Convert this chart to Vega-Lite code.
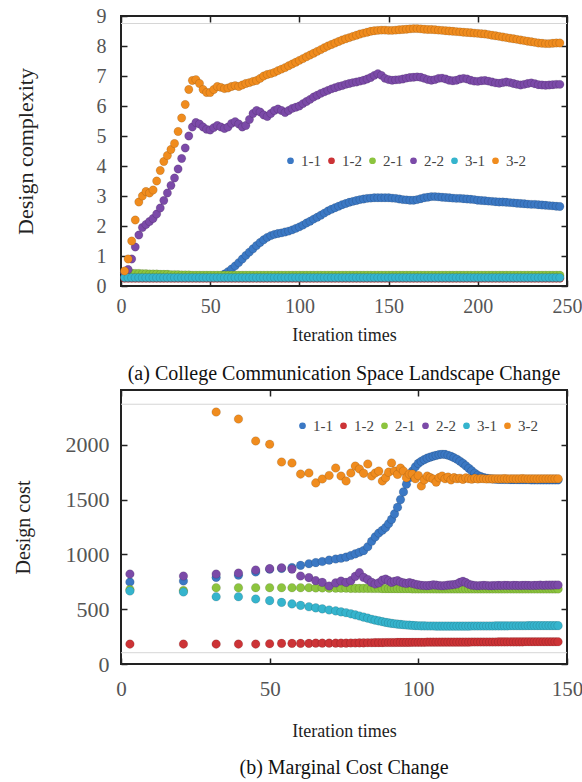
{
"$schema": "https://vega.github.io/schema/vega-lite/v6.json",
"background": "white",
"padding": {"left": 12, "top": 5, "right": 5, "bottom": 0},
"config": {
  "font": "Liberation Serif",
  "view": {"stroke": "#222", "strokeWidth": 2},
  "axis": {"grid": false, "domain": false, "labelFlush": false, "labelFont": "Liberation Serif", "titleFont": "Liberation Serif", "labelColor": "#555", "titleColor": "#222", "titleFontWeight": "normal", "labelFontSize": 20, "titleFontSize": 18, "tickColor": "#222", "tickWidth": 1.5, "tickSize": -6},
  "legend": {"labelFont": "Liberation Serif", "labelFontSize": 15, "labelColor": "#444", "symbolType": "circle", "symbolSize": 45, "symbolStrokeWidth": 0, "columnPadding": 3, "labelOffset": 3},
  "title": {"font": "Liberation Serif", "fontSize": 20, "fontWeight": "normal", "color": "#111"},
  "concat": {"spacing": 3}
},
"resolve": {"scale": {"color": "independent"}, "legend": {"color": "independent"}},
"vconcat": [
{
  "width": 446, "height": 270,
  "title": {"text": "(a) College Communication Space Landscape Change", "orient": "bottom", "offset": 20},
  "data": {"values": [
{"x":2,"1-1":0.3,"1-2":0.26,"2-1":0.45,"2-2":0.45,"3-1":0.28,"3-2":0.5},
{"x":4,"1-1":0.3,"1-2":0.26,"2-1":0.44,"2-2":0.55,"3-1":0.28,"3-2":0.9},
{"x":6,"1-1":0.3,"1-2":0.26,"2-1":0.43,"2-2":0.9,"3-1":0.28,"3-2":1.5},
{"x":8,"1-1":0.3,"1-2":0.26,"2-1":0.42,"2-2":1.3,"3-1":0.28,"3-2":2.2},
{"x":10,"1-1":0.3,"1-2":0.26,"2-1":0.42,"2-2":1.7,"3-1":0.28,"3-2":2.8},
{"x":12,"1-1":0.3,"1-2":0.26,"2-1":0.41,"2-2":1.95,"3-1":0.28,"3-2":3.0},
{"x":14,"1-1":0.3,"1-2":0.26,"2-1":0.41,"2-2":2.05,"3-1":0.28,"3-2":3.15},
{"x":16,"1-1":0.3,"1-2":0.26,"2-1":0.4,"2-2":2.15,"3-1":0.28,"3-2":3.1},
{"x":18,"1-1":0.3,"1-2":0.26,"2-1":0.4,"2-2":2.25,"3-1":0.28,"3-2":3.2},
{"x":20,"1-1":0.3,"1-2":0.26,"2-1":0.4,"2-2":2.4,"3-1":0.28,"3-2":3.5},
{"x":22,"1-1":0.3,"1-2":0.26,"2-1":0.39,"2-2":2.6,"3-1":0.28,"3-2":3.85},
{"x":24,"1-1":0.3,"1-2":0.26,"2-1":0.39,"2-2":2.85,"3-1":0.28,"3-2":4.15},
{"x":26,"1-1":0.3,"1-2":0.26,"2-1":0.39,"2-2":3.1,"3-1":0.28,"3-2":4.35},
{"x":28,"1-1":0.3,"1-2":0.26,"2-1":0.38,"2-2":3.35,"3-1":0.28,"3-2":4.55},
{"x":30,"1-1":0.3,"1-2":0.26,"2-1":0.38,"2-2":3.6,"3-1":0.28,"3-2":4.75},
{"x":32,"1-1":0.3,"1-2":0.26,"2-1":0.38,"2-2":3.9,"3-1":0.28,"3-2":5.15},
{"x":34,"1-1":0.3,"1-2":0.26,"2-1":0.37,"2-2":4.25,"3-1":0.28,"3-2":5.6},
{"x":36,"1-1":0.3,"1-2":0.26,"2-1":0.37,"2-2":4.6,"3-1":0.28,"3-2":6.05},
{"x":38,"1-1":0.3,"1-2":0.26,"2-1":0.37,"2-2":5.0,"3-1":0.28,"3-2":6.55},
{"x":40,"1-1":0.3,"1-2":0.26,"2-1":0.36,"2-2":5.3,"3-1":0.28,"3-2":6.85},
{"x":42,"1-1":0.3,"1-2":0.26,"2-1":0.36,"2-2":5.45,"3-1":0.28,"3-2":6.88},
{"x":44,"1-1":0.3,"1-2":0.26,"2-1":0.36,"2-2":5.4,"3-1":0.28,"3-2":6.75},
{"x":46,"1-1":0.3,"1-2":0.26,"2-1":0.36,"2-2":5.3,"3-1":0.28,"3-2":6.55},
{"x":48,"1-1":0.3,"1-2":0.26,"2-1":0.36,"2-2":5.22,"3-1":0.28,"3-2":6.45},
{"x":50,"1-1":0.3,"1-2":0.26,"2-1":0.36,"2-2":5.2,"3-1":0.28,"3-2":6.45},
{"x":52,"1-1":0.3,"1-2":0.26,"2-1":0.36,"2-2":5.28,"3-1":0.28,"3-2":6.55},
{"x":54,"1-1":0.3,"1-2":0.26,"2-1":0.36,"2-2":5.35,"3-1":0.28,"3-2":6.65},
{"x":56,"1-1":0.33,"1-2":0.26,"2-1":0.36,"2-2":5.3,"3-1":0.28,"3-2":6.62},
{"x":58,"1-1":0.4,"1-2":0.26,"2-1":0.36,"2-2":5.25,"3-1":0.28,"3-2":6.58},
{"x":60,"1-1":0.48,"1-2":0.26,"2-1":0.36,"2-2":5.3,"3-1":0.28,"3-2":6.6},
{"x":62,"1-1":0.57,"1-2":0.26,"2-1":0.36,"2-2":5.42,"3-1":0.28,"3-2":6.65},
{"x":64,"1-1":0.67,"1-2":0.26,"2-1":0.36,"2-2":5.48,"3-1":0.28,"3-2":6.68},
{"x":66,"1-1":0.78,"1-2":0.26,"2-1":0.36,"2-2":5.4,"3-1":0.28,"3-2":6.65},
{"x":68,"1-1":0.9,"1-2":0.26,"2-1":0.36,"2-2":5.3,"3-1":0.28,"3-2":6.7},
{"x":70,"1-1":1.02,"1-2":0.26,"2-1":0.36,"2-2":5.35,"3-1":0.28,"3-2":6.75},
{"x":72,"1-1":1.13,"1-2":0.26,"2-1":0.36,"2-2":5.55,"3-1":0.28,"3-2":6.78},
{"x":74,"1-1":1.24,"1-2":0.26,"2-1":0.36,"2-2":5.75,"3-1":0.28,"3-2":6.82},
{"x":76,"1-1":1.35,"1-2":0.26,"2-1":0.36,"2-2":5.85,"3-1":0.28,"3-2":6.85},
{"x":78,"1-1":1.45,"1-2":0.26,"2-1":0.36,"2-2":5.8,"3-1":0.28,"3-2":6.92},
{"x":80,"1-1":1.54,"1-2":0.26,"2-1":0.36,"2-2":5.7,"3-1":0.28,"3-2":7.0},
{"x":82,"1-1":1.62,"1-2":0.26,"2-1":0.36,"2-2":5.65,"3-1":0.28,"3-2":7.05},
{"x":84,"1-1":1.68,"1-2":0.26,"2-1":0.36,"2-2":5.75,"3-1":0.28,"3-2":7.08},
{"x":86,"1-1":1.72,"1-2":0.26,"2-1":0.36,"2-2":5.85,"3-1":0.28,"3-2":7.12},
{"x":88,"1-1":1.75,"1-2":0.26,"2-1":0.36,"2-2":5.9,"3-1":0.28,"3-2":7.18},
{"x":90,"1-1":1.77,"1-2":0.26,"2-1":0.36,"2-2":5.85,"3-1":0.28,"3-2":7.23},
{"x":92,"1-1":1.8,"1-2":0.26,"2-1":0.36,"2-2":5.78,"3-1":0.28,"3-2":7.28},
{"x":94,"1-1":1.83,"1-2":0.26,"2-1":0.36,"2-2":5.85,"3-1":0.28,"3-2":7.34},
{"x":96,"1-1":1.87,"1-2":0.26,"2-1":0.36,"2-2":5.92,"3-1":0.28,"3-2":7.4},
{"x":98,"1-1":1.92,"1-2":0.26,"2-1":0.36,"2-2":5.96,"3-1":0.28,"3-2":7.46},
{"x":100,"1-1":1.97,"1-2":0.26,"2-1":0.36,"2-2":6.0,"3-1":0.28,"3-2":7.52},
{"x":102,"1-1":2.03,"1-2":0.26,"2-1":0.36,"2-2":6.08,"3-1":0.28,"3-2":7.58},
{"x":104,"1-1":2.1,"1-2":0.26,"2-1":0.36,"2-2":6.15,"3-1":0.28,"3-2":7.64},
{"x":106,"1-1":2.16,"1-2":0.26,"2-1":0.36,"2-2":6.22,"3-1":0.28,"3-2":7.7},
{"x":108,"1-1":2.23,"1-2":0.26,"2-1":0.36,"2-2":6.3,"3-1":0.28,"3-2":7.76},
{"x":110,"1-1":2.29,"1-2":0.26,"2-1":0.36,"2-2":6.36,"3-1":0.28,"3-2":7.82},
{"x":112,"1-1":2.36,"1-2":0.26,"2-1":0.36,"2-2":6.42,"3-1":0.28,"3-2":7.88},
{"x":114,"1-1":2.43,"1-2":0.26,"2-1":0.36,"2-2":6.47,"3-1":0.28,"3-2":7.94},
{"x":116,"1-1":2.5,"1-2":0.26,"2-1":0.36,"2-2":6.52,"3-1":0.28,"3-2":8.0},
{"x":118,"1-1":2.56,"1-2":0.26,"2-1":0.36,"2-2":6.57,"3-1":0.28,"3-2":8.05},
{"x":120,"1-1":2.61,"1-2":0.26,"2-1":0.36,"2-2":6.61,"3-1":0.28,"3-2":8.1},
{"x":122,"1-1":2.66,"1-2":0.26,"2-1":0.36,"2-2":6.65,"3-1":0.28,"3-2":8.15},
{"x":124,"1-1":2.71,"1-2":0.26,"2-1":0.36,"2-2":6.68,"3-1":0.28,"3-2":8.2},
{"x":126,"1-1":2.75,"1-2":0.26,"2-1":0.36,"2-2":6.72,"3-1":0.28,"3-2":8.24},
{"x":128,"1-1":2.79,"1-2":0.26,"2-1":0.36,"2-2":6.75,"3-1":0.28,"3-2":8.28},
{"x":130,"1-1":2.82,"1-2":0.26,"2-1":0.36,"2-2":6.78,"3-1":0.28,"3-2":8.32},
{"x":132,"1-1":2.85,"1-2":0.26,"2-1":0.36,"2-2":6.8,"3-1":0.28,"3-2":8.36},
{"x":134,"1-1":2.88,"1-2":0.26,"2-1":0.36,"2-2":6.83,"3-1":0.28,"3-2":8.4},
{"x":136,"1-1":2.9,"1-2":0.26,"2-1":0.36,"2-2":6.86,"3-1":0.28,"3-2":8.43},
{"x":138,"1-1":2.92,"1-2":0.26,"2-1":0.36,"2-2":6.9,"3-1":0.28,"3-2":8.46},
{"x":140,"1-1":2.93,"1-2":0.26,"2-1":0.36,"2-2":6.95,"3-1":0.28,"3-2":8.49},
{"x":142,"1-1":2.94,"1-2":0.26,"2-1":0.36,"2-2":7.02,"3-1":0.28,"3-2":8.51},
{"x":144,"1-1":2.94,"1-2":0.26,"2-1":0.36,"2-2":7.08,"3-1":0.28,"3-2":8.52},
{"x":146,"1-1":2.94,"1-2":0.26,"2-1":0.36,"2-2":7.02,"3-1":0.28,"3-2":8.53},
{"x":148,"1-1":2.94,"1-2":0.26,"2-1":0.36,"2-2":6.92,"3-1":0.28,"3-2":8.53},
{"x":150,"1-1":2.94,"1-2":0.26,"2-1":0.36,"2-2":6.88,"3-1":0.28,"3-2":8.52},
{"x":152,"1-1":2.93,"1-2":0.26,"2-1":0.36,"2-2":6.86,"3-1":0.28,"3-2":8.52},
{"x":154,"1-1":2.92,"1-2":0.26,"2-1":0.36,"2-2":6.87,"3-1":0.28,"3-2":8.53},
{"x":156,"1-1":2.9,"1-2":0.26,"2-1":0.36,"2-2":6.88,"3-1":0.28,"3-2":8.54},
{"x":158,"1-1":2.88,"1-2":0.26,"2-1":0.36,"2-2":6.9,"3-1":0.28,"3-2":8.55},
{"x":160,"1-1":2.87,"1-2":0.26,"2-1":0.36,"2-2":6.93,"3-1":0.28,"3-2":8.56},
{"x":162,"1-1":2.86,"1-2":0.26,"2-1":0.36,"2-2":6.95,"3-1":0.28,"3-2":8.57},
{"x":164,"1-1":2.86,"1-2":0.26,"2-1":0.36,"2-2":6.96,"3-1":0.28,"3-2":8.58},
{"x":166,"1-1":2.88,"1-2":0.26,"2-1":0.36,"2-2":6.97,"3-1":0.28,"3-2":8.58},
{"x":168,"1-1":2.91,"1-2":0.26,"2-1":0.36,"2-2":6.96,"3-1":0.28,"3-2":8.57},
{"x":170,"1-1":2.94,"1-2":0.26,"2-1":0.36,"2-2":6.92,"3-1":0.28,"3-2":8.56},
{"x":172,"1-1":2.96,"1-2":0.26,"2-1":0.36,"2-2":6.88,"3-1":0.28,"3-2":8.55},
{"x":174,"1-1":2.98,"1-2":0.26,"2-1":0.36,"2-2":6.86,"3-1":0.28,"3-2":8.55},
{"x":176,"1-1":2.98,"1-2":0.26,"2-1":0.36,"2-2":6.88,"3-1":0.28,"3-2":8.54},
{"x":178,"1-1":2.97,"1-2":0.26,"2-1":0.36,"2-2":6.92,"3-1":0.28,"3-2":8.53},
{"x":180,"1-1":2.96,"1-2":0.26,"2-1":0.36,"2-2":6.93,"3-1":0.28,"3-2":8.52},
{"x":182,"1-1":2.95,"1-2":0.26,"2-1":0.36,"2-2":6.9,"3-1":0.28,"3-2":8.51},
{"x":184,"1-1":2.94,"1-2":0.26,"2-1":0.36,"2-2":6.86,"3-1":0.28,"3-2":8.5},
{"x":186,"1-1":2.93,"1-2":0.26,"2-1":0.36,"2-2":6.84,"3-1":0.28,"3-2":8.49},
{"x":188,"1-1":2.92,"1-2":0.26,"2-1":0.36,"2-2":6.86,"3-1":0.28,"3-2":8.48},
{"x":190,"1-1":2.92,"1-2":0.26,"2-1":0.36,"2-2":6.9,"3-1":0.28,"3-2":8.47},
{"x":192,"1-1":2.91,"1-2":0.26,"2-1":0.36,"2-2":6.92,"3-1":0.28,"3-2":8.46},
{"x":194,"1-1":2.9,"1-2":0.26,"2-1":0.36,"2-2":6.9,"3-1":0.28,"3-2":8.45},
{"x":196,"1-1":2.89,"1-2":0.26,"2-1":0.36,"2-2":6.86,"3-1":0.28,"3-2":8.44},
{"x":198,"1-1":2.88,"1-2":0.26,"2-1":0.36,"2-2":6.83,"3-1":0.28,"3-2":8.43},
{"x":200,"1-1":2.86,"1-2":0.26,"2-1":0.36,"2-2":6.82,"3-1":0.28,"3-2":8.42},
{"x":202,"1-1":2.85,"1-2":0.26,"2-1":0.36,"2-2":6.84,"3-1":0.28,"3-2":8.41},
{"x":204,"1-1":2.84,"1-2":0.26,"2-1":0.36,"2-2":6.85,"3-1":0.28,"3-2":8.4},
{"x":206,"1-1":2.83,"1-2":0.26,"2-1":0.36,"2-2":6.83,"3-1":0.28,"3-2":8.38},
{"x":208,"1-1":2.82,"1-2":0.26,"2-1":0.36,"2-2":6.8,"3-1":0.28,"3-2":8.36},
{"x":210,"1-1":2.81,"1-2":0.26,"2-1":0.36,"2-2":6.77,"3-1":0.28,"3-2":8.34},
{"x":212,"1-1":2.8,"1-2":0.26,"2-1":0.36,"2-2":6.76,"3-1":0.28,"3-2":8.32},
{"x":214,"1-1":2.8,"1-2":0.26,"2-1":0.36,"2-2":6.78,"3-1":0.28,"3-2":8.3},
{"x":216,"1-1":2.79,"1-2":0.26,"2-1":0.36,"2-2":6.8,"3-1":0.28,"3-2":8.28},
{"x":218,"1-1":2.78,"1-2":0.26,"2-1":0.36,"2-2":6.78,"3-1":0.28,"3-2":8.26},
{"x":220,"1-1":2.77,"1-2":0.26,"2-1":0.36,"2-2":6.75,"3-1":0.28,"3-2":8.24},
{"x":222,"1-1":2.76,"1-2":0.26,"2-1":0.36,"2-2":6.72,"3-1":0.28,"3-2":8.22},
{"x":224,"1-1":2.75,"1-2":0.26,"2-1":0.36,"2-2":6.7,"3-1":0.28,"3-2":8.2},
{"x":226,"1-1":2.74,"1-2":0.26,"2-1":0.36,"2-2":6.72,"3-1":0.28,"3-2":8.18},
{"x":228,"1-1":2.73,"1-2":0.26,"2-1":0.36,"2-2":6.75,"3-1":0.28,"3-2":8.16},
{"x":230,"1-1":2.72,"1-2":0.26,"2-1":0.36,"2-2":6.77,"3-1":0.28,"3-2":8.14},
{"x":232,"1-1":2.72,"1-2":0.26,"2-1":0.36,"2-2":6.74,"3-1":0.28,"3-2":8.12},
{"x":234,"1-1":2.71,"1-2":0.26,"2-1":0.36,"2-2":6.71,"3-1":0.28,"3-2":8.1},
{"x":236,"1-1":2.7,"1-2":0.26,"2-1":0.36,"2-2":6.7,"3-1":0.28,"3-2":8.09},
{"x":238,"1-1":2.69,"1-2":0.26,"2-1":0.36,"2-2":6.69,"3-1":0.28,"3-2":8.08},
{"x":240,"1-1":2.68,"1-2":0.26,"2-1":0.36,"2-2":6.7,"3-1":0.28,"3-2":8.08},
{"x":242,"1-1":2.67,"1-2":0.26,"2-1":0.36,"2-2":6.71,"3-1":0.28,"3-2":8.09},
{"x":244,"1-1":2.66,"1-2":0.26,"2-1":0.36,"2-2":6.72,"3-1":0.28,"3-2":8.1},
{"x":246,"1-1":2.65,"1-2":0.26,"2-1":0.36,"2-2":6.72,"3-1":0.28,"3-2":8.1}
  ]},
  "layer": [
    {"data": {"values": [{"g": 8.75}]}, "mark": {"type": "rule", "color": "#d6d6d6", "strokeWidth": 1},
     "encoding": {"y": {"field": "g", "type": "quantitative", "scale": {"domain": [0, 9], "nice": false}, "axis": null}}},
    {"transform": [{"fold": ["1-1","1-2","2-1","2-2","3-1","3-2"], "as": ["series","value"]}],
     "mark": {"type": "circle", "size": 70, "opacity": 1, "stroke": "#000", "strokeWidth": 0.4, "strokeOpacity": 0.3},
     "encoding": {
       "x": {"field": "x", "type": "quantitative", "scale": {"domain": [0, 250], "nice": false},
             "axis": {"values": [0,50,100,150,200,250], "title": "Iteration times", "labelPadding": 16, "titlePadding": 10}},
       "y": {"field": "value", "type": "quantitative", "scale": {"domain": [0, 9], "nice": false},
             "axis": {"values": [0,1,2,3,4,5,6,7,8,9], "title": "Design complexity", "titleFontSize": 22, "labelPadding": 21, "titlePadding": 59}},
       "color": {"field": "series", "type": "nominal",
             "scale": {"domain": ["1-1","1-2","2-1","2-2","3-1","3-2"], "range": ["#3b78c4","#cc3336","#8cc43e","#7b4aa8","#35b4cd","#f08c1e"]},
             "legend": {"title": null, "orient": "none", "direction": "horizontal", "columns": 6, "legendX": 162, "legendY": 137}},
       "order": {"field": "series", "type": "ordinal"}
     }},
    {"mark": {"type": "point", "opacity": 0},
     "encoding": {
       "x": {"field": "x", "type": "quantitative", "axis": {"orient": "top", "values": [0,50,100,150,200,250], "labels": false, "title": null}},
       "y": {"field": "3-2", "type": "quantitative", "axis": {"orient": "right", "values": [0,1,2,3,4,5,6,7,8,9], "labels": false, "title": null}}
     }}
  ],
  "resolve": {"axis": {"x": "independent", "y": "independent"}}
},
{
  "width": 446, "height": 274,
  "title": {"text": "(b) Marginal Cost Change", "orient": "bottom", "offset": 18},
  "data": {"values": [
{"x":3,"1-1":748,"1-2":182,"2-1":680,"2-2":821,"3-1":666,"3-2":null},
{"x":21,"1-1":757,"1-2":182,"2-1":670,"2-2":803,"3-1":657,"3-2":null},
{"x":32,"1-1":790,"1-2":182,"2-1":696,"2-2":821,"3-1":614,"3-2":2299},
{"x":39.5,"1-1":810,"1-2":182,"2-1":696,"2-2":830,"3-1":614,"3-2":2235},
{"x":45.3,"1-1":840,"1-2":182,"2-1":696,"2-2":858,"3-1":593,"3-2":2035},
{"x":50,"1-1":865,"1-2":185,"2-1":696,"2-2":870,"3-1":578,"3-2":2005},
{"x":54,"1-1":872,"1-2":188,"2-1":696,"2-2":878,"3-1":562,"3-2":1843},
{"x":57.5,"1-1":880,"1-2":188,"2-1":696,"2-2":866,"3-1":548,"3-2":1834},
{"x":60.4,"1-1":900,"1-2":188,"2-1":696,"2-2":803,"3-1":535,"3-2":1733},
{"x":63.2,"1-1":915,"1-2":188,"2-1":696,"2-2":788,"3-1":522,"3-2":1743},
{"x":65.5,"1-1":925,"1-2":190,"2-1":694,"2-2":760,"3-1":512,"3-2":1652},
{"x":67.7,"1-1":935,"1-2":190,"2-1":694,"2-2":745,"3-1":503,"3-2":1688},
{"x":70,"1-1":948,"1-2":190,"2-1":692,"2-2":712,"3-1":493,"3-2":1720},
{"x":72.2,"1-1":958,"1-2":190,"2-1":692,"2-2":740,"3-1":484,"3-2":1788},
{"x":74,"1-1":965,"1-2":190,"2-1":692,"2-2":757,"3-1":476,"3-2":1715},
{"x":75.7,"1-1":975,"1-2":190,"2-1":692,"2-2":745,"3-1":468,"3-2":1670},
{"x":77.3,"1-1":990,"1-2":192,"2-1":690,"2-2":760,"3-1":458,"3-2":1743},
{"x":78.8,"1-1":1005,"1-2":192,"2-1":690,"2-2":800,"3-1":448,"3-2":1806},
{"x":80.2,"1-1":1020,"1-2":193,"2-1":690,"2-2":833,"3-1":438,"3-2":1779},
{"x":81.6,"1-1":1035,"1-2":193,"2-1":690,"2-2":790,"3-1":428,"3-2":1740},
{"x":83,"1-1":1070,"1-2":194,"2-1":690,"2-2":770,"3-1":418,"3-2":1825},
{"x":84.3,"1-1":1120,"1-2":194,"2-1":689,"2-2":745,"3-1":408,"3-2":1715},
{"x":85.5,"1-1":1160,"1-2":195,"2-1":689,"2-2":730,"3-1":400,"3-2":1743},
{"x":86.7,"1-1":1195,"1-2":195,"2-1":689,"2-2":740,"3-1":393,"3-2":1760},
{"x":87.9,"1-1":1220,"1-2":195,"2-1":688,"2-2":765,"3-1":386,"3-2":1670},
{"x":89,"1-1":1245,"1-2":196,"2-1":688,"2-2":775,"3-1":380,"3-2":1700},
{"x":90,"1-1":1280,"1-2":196,"2-1":688,"2-2":760,"3-1":375,"3-2":1750},
{"x":91,"1-1":1320,"1-2":196,"2-1":688,"2-2":745,"3-1":371,"3-2":1834},
{"x":92,"1-1":1370,"1-2":196,"2-1":688,"2-2":755,"3-1":367,"3-2":1761},
{"x":93,"1-1":1430,"1-2":197,"2-1":687,"2-2":760,"3-1":364,"3-2":1730},
{"x":94,"1-1":1500,"1-2":197,"2-1":687,"2-2":748,"3-1":361,"3-2":1788},
{"x":95,"1-1":1570,"1-2":197,"2-1":687,"2-2":740,"3-1":358,"3-2":1760},
{"x":96,"1-1":1640,"1-2":197,"2-1":687,"2-2":735,"3-1":356,"3-2":1700},
{"x":97,"1-1":1700,"1-2":197,"2-1":687,"2-2":742,"3-1":354,"3-2":1733},
{"x":98,"1-1":1760,"1-2":198,"2-1":686,"2-2":735,"3-1":352,"3-2":1733},
{"x":99,"1-1":1800,"1-2":198,"2-1":686,"2-2":728,"3-1":350,"3-2":1690},
{"x":100,"1-1":1830,"1-2":198,"2-1":686,"2-2":722,"3-1":349,"3-2":1720},
{"x":101,"1-1":1850,"1-2":198,"2-1":686,"2-2":718,"3-1":348,"3-2":1624},
{"x":102,"1-1":1865,"1-2":198,"2-1":686,"2-2":716,"3-1":348,"3-2":1680},
{"x":103,"1-1":1878,"1-2":199,"2-1":686,"2-2":715,"3-1":347,"3-2":1715},
{"x":104,"1-1":1888,"1-2":199,"2-1":686,"2-2":718,"3-1":347,"3-2":1700},
{"x":105,"1-1":1896,"1-2":199,"2-1":686,"2-2":722,"3-1":347,"3-2":1688},
{"x":106,"1-1":1903,"1-2":199,"2-1":685,"2-2":720,"3-1":346,"3-2":1660},
{"x":107,"1-1":1910,"1-2":199,"2-1":685,"2-2":716,"3-1":346,"3-2":1700},
{"x":108,"1-1":1914,"1-2":200,"2-1":685,"2-2":714,"3-1":346,"3-2":1715},
{"x":109,"1-1":1912,"1-2":200,"2-1":685,"2-2":716,"3-1":346,"3-2":1690},
{"x":110,"1-1":1905,"1-2":200,"2-1":685,"2-2":720,"3-1":346,"3-2":1705},
{"x":111,"1-1":1895,"1-2":200,"2-1":685,"2-2":722,"3-1":346,"3-2":1680},
{"x":112,"1-1":1882,"1-2":200,"2-1":685,"2-2":725,"3-1":346,"3-2":1700},
{"x":113,"1-1":1868,"1-2":200,"2-1":685,"2-2":730,"3-1":346,"3-2":1690},
{"x":114,"1-1":1850,"1-2":200,"2-1":685,"2-2":745,"3-1":346,"3-2":1695},
{"x":115,"1-1":1830,"1-2":200,"2-1":685,"2-2":755,"3-1":346,"3-2":1685},
{"x":116,"1-1":1808,"1-2":200,"2-1":685,"2-2":742,"3-1":346,"3-2":1698},
{"x":117,"1-1":1785,"1-2":200,"2-1":685,"2-2":728,"3-1":346,"3-2":1690},
{"x":118,"1-1":1762,"1-2":201,"2-1":685,"2-2":720,"3-1":347,"3-2":1686},
{"x":119,"1-1":1740,"1-2":201,"2-1":685,"2-2":716,"3-1":347,"3-2":1694},
{"x":120,"1-1":1722,"1-2":201,"2-1":685,"2-2":714,"3-1":347,"3-2":1688},
{"x":121,"1-1":1710,"1-2":201,"2-1":685,"2-2":716,"3-1":347,"3-2":1692},
{"x":122,"1-1":1700,"1-2":201,"2-1":685,"2-2":718,"3-1":347,"3-2":1690},
{"x":123,"1-1":1695,"1-2":201,"2-1":685,"2-2":716,"3-1":347,"3-2":1688},
{"x":124,"1-1":1690,"1-2":201,"2-1":685,"2-2":714,"3-1":347,"3-2":1690},
{"x":125,"1-1":1688,"1-2":201,"2-1":685,"2-2":715,"3-1":347,"3-2":1689},
{"x":126,"1-1":1686,"1-2":201,"2-1":685,"2-2":716,"3-1":348,"3-2":1690},
{"x":127,"1-1":1685,"1-2":202,"2-1":685,"2-2":717,"3-1":348,"3-2":1689},
{"x":128,"1-1":1684,"1-2":202,"2-1":685,"2-2":716,"3-1":348,"3-2":1690},
{"x":129,"1-1":1683,"1-2":202,"2-1":685,"2-2":718,"3-1":348,"3-2":1691},
{"x":130,"1-1":1683,"1-2":202,"2-1":685,"2-2":717,"3-1":348,"3-2":1689},
{"x":131,"1-1":1682,"1-2":202,"2-1":685,"2-2":716,"3-1":349,"3-2":1690},
{"x":132,"1-1":1682,"1-2":202,"2-1":685,"2-2":718,"3-1":349,"3-2":1690},
{"x":133,"1-1":1682,"1-2":202,"2-1":685,"2-2":717,"3-1":349,"3-2":1689},
{"x":134,"1-1":1681,"1-2":202,"2-1":685,"2-2":716,"3-1":349,"3-2":1690},
{"x":135,"1-1":1681,"1-2":202,"2-1":685,"2-2":717,"3-1":349,"3-2":1691},
{"x":136,"1-1":1681,"1-2":203,"2-1":685,"2-2":718,"3-1":349,"3-2":1690},
{"x":137,"1-1":1681,"1-2":203,"2-1":685,"2-2":717,"3-1":350,"3-2":1689},
{"x":138,"1-1":1680,"1-2":203,"2-1":685,"2-2":716,"3-1":350,"3-2":1690},
{"x":139,"1-1":1680,"1-2":203,"2-1":685,"2-2":717,"3-1":350,"3-2":1690},
{"x":140,"1-1":1680,"1-2":203,"2-1":685,"2-2":718,"3-1":350,"3-2":1689},
{"x":141,"1-1":1680,"1-2":203,"2-1":685,"2-2":719,"3-1":350,"3-2":1690},
{"x":142,"1-1":1680,"1-2":203,"2-1":685,"2-2":718,"3-1":350,"3-2":1690},
{"x":143,"1-1":1680,"1-2":203,"2-1":685,"2-2":719,"3-1":350,"3-2":1690},
{"x":144,"1-1":1680,"1-2":203,"2-1":685,"2-2":720,"3-1":350,"3-2":1690},
{"x":145,"1-1":1680,"1-2":203,"2-1":685,"2-2":720,"3-1":350,"3-2":1690},
{"x":146,"1-1":1680,"1-2":203,"2-1":685,"2-2":721,"3-1":350,"3-2":1690},
{"x":147,"1-1":1680,"1-2":203,"2-1":685,"2-2":721,"3-1":350,"3-2":1690}
  ]},
  "layer": [
    {"data": {"values": [{"g": 2370}, {"g": 103}]}, "mark": {"type": "rule", "color": "#d6d6d6", "strokeWidth": 1},
     "encoding": {"y": {"field": "g", "type": "quantitative", "scale": {"domain": [0, 2500], "nice": false}, "axis": null}}},
    {"transform": [{"fold": ["1-1","1-2","2-1","2-2","3-1","3-2"], "as": ["series","value"]}],
     "mark": {"type": "circle", "size": 75, "opacity": 1, "stroke": "#000", "strokeWidth": 0.4, "strokeOpacity": 0.3},
     "encoding": {
       "x": {"field": "x", "type": "quantitative", "scale": {"domain": [0, 150], "nice": false},
             "axis": {"values": [0,50,100,150], "title": "Iteration times", "labelFontSize": 21, "labelPadding": 20, "titlePadding": 23}},
       "y": {"field": "value", "type": "quantitative", "scale": {"domain": [0, 2500], "nice": false},
             "axis": {"values": [0,500,1000,1500,2000], "format": "d", "title": "Design cost", "titleFontSize": 20, "labelFontSize": 22, "labelPadding": 18, "titlePadding": 32}},
       "color": {"field": "series", "type": "nominal",
             "scale": {"domain": ["1-1","1-2","2-1","2-2","3-1","3-2"], "range": ["#3b78c4","#cc3336","#8cc43e","#7b4aa8","#35b4cd","#f08c1e"]},
             "legend": {"title": null, "orient": "none", "direction": "horizontal", "columns": 6, "legendX": 174, "legendY": 28}},
       "order": {"field": "series", "type": "ordinal"}
     }},
    {"mark": {"type": "point", "opacity": 0},
     "encoding": {
       "x": {"field": "x", "type": "quantitative", "axis": {"orient": "top", "values": [0,50,100,150], "labels": false, "title": null}},
       "y": {"field": "3-2", "type": "quantitative", "axis": {"orient": "right", "values": [0,500,1000,1500,2000], "format": "d", "labels": false, "title": null}}
     }}
  ],
  "resolve": {"axis": {"x": "independent", "y": "independent"}}
}
]
}
